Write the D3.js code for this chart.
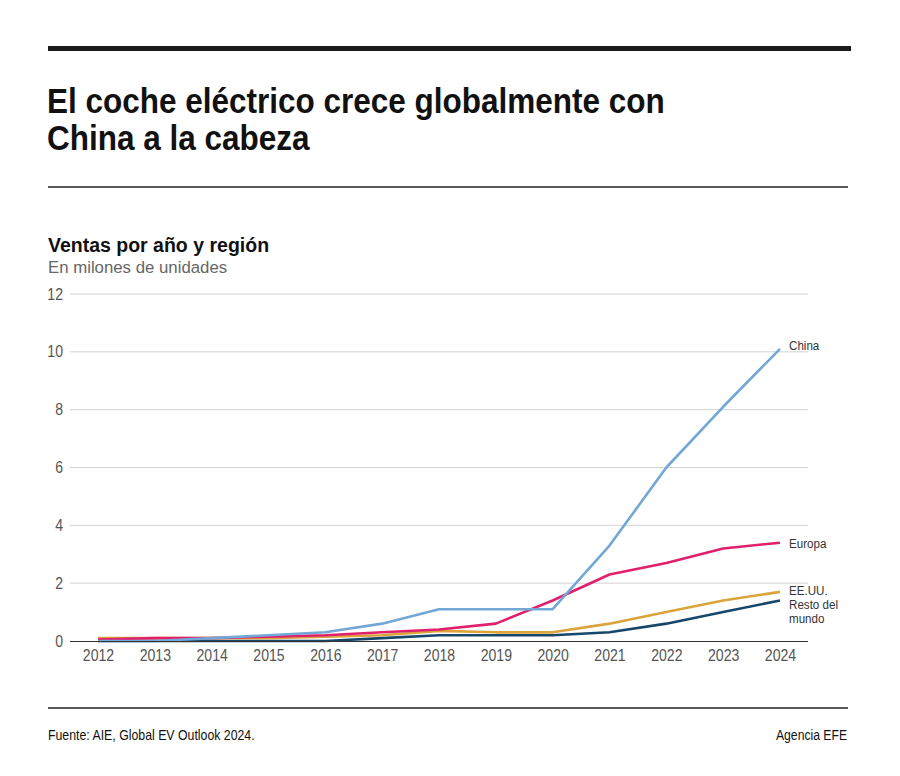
<!DOCTYPE html>
<html>
<head>
<meta charset="utf-8">
<script src="https://cdn.jsdelivr.net/npm/d3@7"></script>
<style>
html,body{margin:0;padding:0;background:#fff;}
svg{display:block;}
</style>
</head>
<body>
<svg id="chart" width="900" height="776"></svg>
<script>
const years = [2012,2013,2014,2015,2016,2017,2018,2019,2020,2021,2022,2023,2024];
const china  = [0,0,0.1,0.2,0.3,0.6,1.1,1.1,1.1,3.3,6.0,8.1,10.1];
const europa = [0.05,0.1,0.1,0.15,0.2,0.3,0.4,0.6,1.4,2.3,2.7,3.2,3.4];
const eeuu   = [0.1,0.1,0.1,0.1,0.15,0.2,0.35,0.3,0.3,0.6,1.0,1.4,1.7];
const resto  = [0,0,0,0,0,0.1,0.2,0.2,0.2,0.3,0.6,1.0,1.4];
const yTicks = [0,2,4,6,8,10,12];
const seriesNames = ["Resto del mundo","EE.UU.","Europa","China"];
const seriesValues = [resto, eeuu, europa, china];
const seriesColors = ["#17466b","#dba43a","#e01f6d","#72a7d6"];

const svg = d3.select("#chart");
const sans = "'Liberation Sans',Arial,sans-serif";

// condensed text helper: horizontal scale around the anchor point
function ctext(parent, x, y, str, sx, attrs) {
  const t = parent.append("text")
    .attr("transform", `translate(${x},${y}) scale(${sx},1)`)
    .attr("font-family", sans).text(str);
  Object.entries(attrs||{}).forEach(([k,v])=>t.attr(k,v));
  return t;
}

// header rules
svg.append("rect").attr("x",48).attr("y",46).attr("width",803).attr("height",5).attr("fill","#1a1a1a");
svg.append("line").attr("x1",48).attr("x2",848).attr("y1",187).attr("y2",187).attr("stroke","#222").attr("stroke-width",1.5);
svg.append("line").attr("x1",48).attr("x2",848).attr("y1",708).attr("y2",708).attr("stroke","#222").attr("stroke-width",1.5);

// title
const tStyle = {"font-weight":"bold","font-size":35,"fill":"#111"};
ctext(svg, 47, 113, "El coche eléctrico crece globalmente con", 0.9, tStyle);
ctext(svg, 47, 150, "China a la cabeza", 0.9, tStyle);

ctext(svg, 48, 252, "Ventas por año y región", 1, {"font-weight":"bold","font-size":19.5,"fill":"#111"});
ctext(svg, 48, 273, "En milones de unidades", 1, {"font-size":16.8,"fill":"#666"});

// footer
ctext(svg, 48, 740, "Fuente: AIE, Global EV Outlook 2024.", 0.88, {"font-size":14,"fill":"#111"});
ctext(svg, 847, 740, "Agencia EFE", 0.87, {"font-size":14,"fill":"#111","text-anchor":"end"});

// scales
const x = d3.scalePoint().domain(years).range([98,780]);
const y = d3.scaleLinear().domain([0,12]).range([641,294]);
const gridX0 = 70, gridX1 = 808;

// grid
const grid = svg.append("g");
yTicks.filter(d=>d>0).forEach(t=>{
  grid.append("line").attr("x1",gridX0).attr("x2",gridX1).attr("y1",y(t)).attr("y2",y(t)).attr("stroke","#d2d2d2").attr("stroke-width",1);
});

// y axis labels
const yAxis = svg.append("g").attr("transform",`translate(${gridX0-7},0)`)
  .call(d3.axisLeft(y).tickValues(yTicks).tickSize(0).tickPadding(0));
yAxis.select(".domain").remove();
yAxis.selectAll("text").attr("font-family",sans).attr("font-size",16).attr("fill","#555")
  .attr("transform","scale(0.88,1)");

// x axis labels
const xAxis = svg.append("g").attr("transform",`translate(0,${y(0)})`)
  .call(d3.axisBottom(x).tickSize(0).tickPadding(9).tickFormat(d3.format("d")));
xAxis.select(".domain").remove();
xAxis.selectAll("text").attr("font-family",sans).attr("font-size",16).attr("fill","#555")
  .attr("transform","scale(0.88,1)");

// lines
const line = d3.line().x((d,i)=>x(years[i])).y(d=>y(d));
seriesValues.forEach((vals,k)=>{
  svg.append("path").datum(vals).attr("d",line).attr("fill","none")
    .attr("stroke",seriesColors[k]).attr("stroke-width",2.6).attr("stroke-linejoin","round");
});

// zero baseline
svg.append("line").attr("x1",gridX0).attr("x2",gridX1).attr("y1",y(0)+0.5).attr("y2",y(0)+0.5).attr("stroke","#333").attr("stroke-width",1.2);

// end labels
const lStyle = {"font-size":13.5,"fill":"#333"};
ctext(svg, 789, 350, "China", 0.86, lStyle);
ctext(svg, 789, 548, "Europa", 0.86, lStyle);
ctext(svg, 789, 595, "EE.UU.", 0.86, lStyle);
ctext(svg, 789, 609, "Resto del", 0.86, lStyle);
ctext(svg, 789, 623, "mundo", 0.86, lStyle);
</script>
</body>
</html>
